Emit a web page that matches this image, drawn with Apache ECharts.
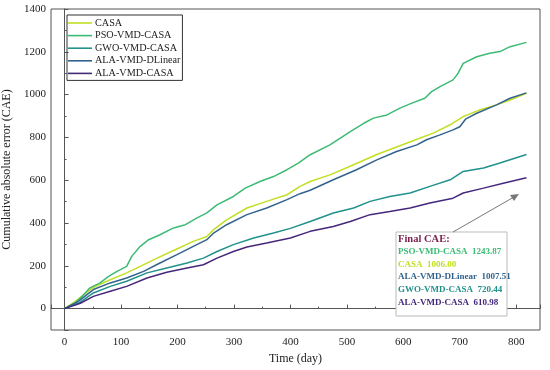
<!DOCTYPE html>
<html>
<head>
<meta charset="utf-8">
<script src="https://cdn.jsdelivr.net/npm/echarts@6/dist/echarts.min.js"></script>
<style>html,body{margin:0;padding:0;background:#fff}#c{width:550px;height:370px}</style>
</head>
<body>
<div id="c"></div>
<script>
const seriesNames = ['CASA', 'PSO-VMD-CASA', 'GWO-VMD-CASA', 'ALA-VMD-DLinear', 'ALA-VMD-CASA'];
const colors = ['#c2df23', '#3dbb74', '#21918c', '#33638d', '#46287b'];

const casa = [[0,0],[19,34],[51,100],[81,135],[110,167],[134,197],[164,236],[196,275],[228,314],[252,337],[264,369],[287,415],[323,470],[358,501],[394,532],[417,571],[435,594],[470,625],[512,672],[553,720],[588,755],[630,797],[653,820],[683,859],[706,897],[736,929],[765,952],[789,975],[818,1006]];
const pso = [[0,0],[19,27],[31,57],[45,97],[63,120],[78,151],[93,174],[110,197],[119,244],[134,291],[149,322],[169,345],[193,377],[214,392],[234,423],[252,447],[270,485],[299,524],[320,563],[346,594],[370,617],[394,649],[414,680],[435,719],[470,765],[506,827],[530,866],[547,890],[571,905],[594,937],[615,960],[638,983],[650,1014],[665,1037],[688,1069],[697,1100],[706,1146],[730,1177],[753,1193],[771,1201],[789,1224],[818,1244]];
const gwo = [[0,0],[28,30],[51,73],[81,104],[110,128],[146,167],[181,190],[217,213],[246,236],[270,267],[299,299],[335,330],[370,353],[400,375],[435,407],[476,447],[512,470],[541,501],[576,524],[612,540],[647,571],[683,602],[706,641],[742,657],[771,680],[818,720]];
const dlinear = [[0,0],[25,35],[51,89],[81,120],[110,143],[140,174],[169,213],[199,252],[228,291],[252,322],[264,353],[287,392],[323,439],[358,470],[394,509],[417,537],[435,553],[476,602],[517,649],[553,695],[588,734],[624,765],[641,789],[665,812],[688,835],[700,850],[710,885],[730,913],[765,952],[789,983],[818,1008]];
const alaCasa = [[0,0],[28,25],[51,57],[81,81],[110,104],[146,143],[181,170],[217,190],[246,205],[270,236],[299,267],[323,288],[358,307],[400,330],[435,361],[476,384],[506,407],[541,439],[576,454],[612,470],[647,493],[688,516],[706,540],[742,563],[777,586],[818,611]];
const seriesData = [casa, pso, gwo, dlinear, alaCasa];

const finalOrder = ['PSO-VMD-CASA', 'CASA', 'ALA-VMD-DLinear', 'GWO-VMD-CASA', 'ALA-VMD-CASA'];
const finalValues = ['1243.87', '1006.00', '1007.51', '720.44', '610.98'];

const FONT = '"Liberation Serif", "Times New Roman", serif';
const chart = echarts.init(document.getElementById('c'), null, {renderer: 'canvas'});

const annoTexts = [{
  type: 'text', left: 398, top: 234,
  style: {text: 'Final CAE:', fill: '#7b1d4c', font: 'bold 10.5px ' + FONT}
}];
finalOrder.forEach((n, i) => {
  annoTexts.push({
    type: 'text', left: 398, top: 247 + i * 12.8,
    style: {text: n + '  ' + finalValues[i], fill: colors[seriesNames.indexOf(n)], font: 'bold 9px ' + FONT}
  });
});

chart.setOption({
  animation: false,
  backgroundColor: '#fff',
  grid: {left: 51, right: 10, top: 9, bottom: 40, show: true, borderColor: '#555', borderWidth: 1,
         containLabel: false, outerBoundsMode: 'none'},
  legend: {
    orient: 'vertical', left: 67, top: 15,
    data: seriesNames,
    icon: 'rect',
    itemWidth: 24, itemHeight: 1.6, itemGap: 0.6,
    padding: [2, 2, 1, 1],
    borderColor: '#333', borderWidth: 1,
    textStyle: {fontFamily: FONT, fontSize: 10.2, lineHeight: 12, color: '#222', padding: [0,0,0,-2]}
  },
  xAxis: {
    type: 'value', min: -24, max: 842, splitNumber: 9,
    name: 'Time (day)', nameLocation: 'middle', nameGap: 22,
    nameTextStyle: {fontFamily: FONT, fontSize: 12, color: '#222'},
    axisLine: {show: true, lineStyle: {color: '#555'}},
    axisTick: {show: true, inside: true, length: 4, lineStyle: {color: '#555'}},
    minorTick: {show: true, splitNumber: 2, length: 2, lineStyle: {color: '#555'}},
    splitLine: {show: false},
    axisLabel: {fontFamily: FONT, fontSize: 11, color: '#222', margin: 7,
      formatter: v => (Math.round(v) % 100 === 0 && v >= 0 && v <= 800) ? String(v) : ''}
  },
  yAxis: {
    type: 'value', min: -100, max: 1400, splitNumber: 7,
    name: 'Cumulative absolute error (CAE)', nameLocation: 'middle', nameGap: 37, nameRotate: 90,
    nameTextStyle: {fontFamily: FONT, fontSize: 12, color: '#222'},
    axisLine: {show: true, lineStyle: {color: '#555'}},
    axisTick: {show: true, inside: true, length: 4, lineStyle: {color: '#555'}},
    minorTick: {show: true, splitNumber: 2, length: 2, lineStyle: {color: '#555'}},
    splitLine: {show: false},
    axisLabel: {fontFamily: FONT, fontSize: 11, color: '#222', margin: 5,
      formatter: v => (v >= 0 && v % 200 === 0) ? String(v) : ''}
  },
  series: seriesNames.map((n, i) => ({
    name: n, type: 'line', data: seriesData[i], symbol: 'none', showSymbol: false,
    lineStyle: {width: 1.5, color: colors[i]}, itemStyle: {color: colors[i]}
  })),
  graphic: [
    {type: 'rect', shape: {x: 396, y: 232, width: 111, height: 84},
     style: {fill: '#fff', stroke: '#bbb', lineWidth: 1}, z: 10},
    {type: 'line', shape: {x1: 453, y1: 232, x2: 514, y2: 197},
     style: {stroke: '#777', lineWidth: 1}, z: 10},
    {type: 'polygon', shape: {points: [[519, 194], [510, 195], [514, 201]]},
     style: {fill: '#777'}, z: 10},
    ...annoTexts.map(t => Object.assign(t, {z: 11}))
  ]
});
</script>
</body>
</html>
